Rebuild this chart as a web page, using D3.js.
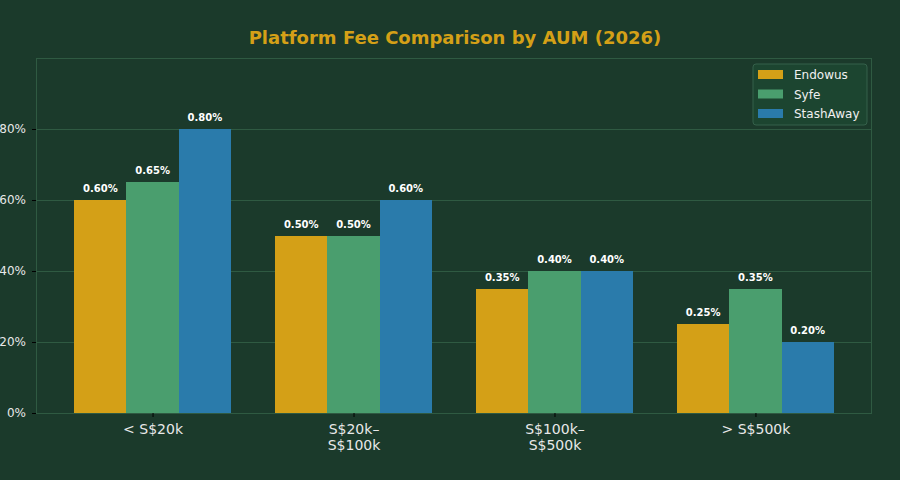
<!DOCTYPE html>
<html>
<head>
<meta charset="utf-8">
<script src="https://cdn.jsdelivr.net/npm/d3@7"></script>
<style>
  body { margin: 0; background: #1b3a2b; }
  svg { display: block; font-family: "DejaVu Sans", sans-serif; }
</style>
</head>
<body>
<div class="chart"></div>
<script>
const categories = ["< S$20k", "S$20k–\nS$100k", "S$100k–\nS$500k", "> S$500k"];
const platforms = ["Endowus", "Syfe", "StashAway"];
const endowus = [0.60, 0.50, 0.35, 0.25];
const syfe = [0.65, 0.50, 0.40, 0.35];
const stashAway = [0.80, 0.60, 0.40, 0.20];
const yTicks = [0, 0.2, 0.4, 0.6, 0.8];
const colors = ["#d4a017", "#4a9e6e", "#2a7bab"];

const series = [endowus, syfe, stashAway];
const width = 900, height = 480;
const margin = {top: 58, right: 28, bottom: 67, left: 36};

const svg = d3.select(".chart").append("svg")
  .attr("width", width)
  .attr("height", height);

svg.append("rect").attr("width", width).attr("height", height).attr("fill", "#1b3a2b");

const x = d3.scalePoint()
  .domain(d3.range(categories.length))
  .range([margin.left, width - margin.right])
  .padding(0.58);

const barW = x.step() * 0.26;

const y = d3.scaleLinear()
  .domain([0, 1.0])
  .range([height - margin.bottom, margin.top]);

// grid
svg.append("g")
  .selectAll("line")
  .data(yTicks.slice(1))
  .enter().append("line")
  .attr("x1", margin.left).attr("x2", width - margin.right)
  .attr("y1", d => Math.round(y(d)) + 0.5).attr("y2", d => Math.round(y(d)) + 0.5)
  .attr("stroke", "#2f5a42").attr("stroke-width", 1);

// bars
series.forEach((vals, si) => {
  const g = svg.append("g");
  g.selectAll("rect")
    .data(vals)
    .enter().append("rect")
    .attr("x", (d, i) => x(i) + (si - 1.5) * barW)
    .attr("y", d => y(d))
    .attr("width", barW + 0.5)
    .attr("height", d => y(0) - y(d))
    .attr("fill", colors[si])
    .attr("shape-rendering", "crispEdges");

  g.selectAll("text")
    .data(vals)
    .enter().append("text")
    .attr("x", (d, i) => x(i) + (si - 1) * barW)
    .attr("y", d => y(d) - 8)
    .attr("text-anchor", "middle")
    .attr("fill", "#ffffff")
    .style("font-size", "10px")
    .style("font-weight", "bold")
    .text(d => d.toFixed(2) + "%");
});

// frame
svg.append("rect")
  .attr("x", margin.left + 0.5).attr("y", margin.top + 0.5)
  .attr("width", width - margin.left - margin.right - 1)
  .attr("height", height - margin.top - margin.bottom)
  .attr("fill", "none")
  .attr("stroke", "#2f5a42");

// y axis
const yAxis = svg.append("g")
  .attr("transform", `translate(${margin.left},0)`)
  .call(d3.axisLeft(y).tickValues(yTicks).tickFormat(d3.format(".0%")).tickSize(4).tickPadding(6));
yAxis.select(".domain").remove();
yAxis.selectAll("line").attr("stroke", "#000");
yAxis.selectAll("text").attr("fill", "#e8e8e8").style("font-size", "12px").style("font-family", "DejaVu Sans");

// x axis
const xAxis = svg.append("g")
  .attr("transform", `translate(0,${height - margin.bottom})`)
  .call(d3.axisBottom(x).tickSize(4).tickFormat(""));
xAxis.select(".domain").remove();
xAxis.selectAll("line").attr("stroke", "#000");
xAxis.selectAll(".tick").append("text")
  .attr("fill", "#e8e8e8")
  .attr("text-anchor", "middle")
  .style("font-size", "14px")
  .style("font-family", "DejaVu Sans")
  .selectAll("tspan")
  .data(d => categories[d].split("\n"))
  .enter().append("tspan")
  .attr("x", 0)
  .attr("y", (d, i) => 21 + i * 16)
  .text(d => d);

// title
svg.append("text")
  .attr("x", width / 2 + 5)
  .attr("y", 44)
  .attr("text-anchor", "middle")
  .attr("fill", "#d4a017")
  .style("font-size", "18px")
  .style("font-weight", "bold")
  .text("Platform Fee Comparison by AUM (2026)");

// legend
const lg = svg.append("g").attr("transform", "translate(753,64)");
lg.append("rect")
  .attr("width", 114).attr("height", 61).attr("rx", 3)
  .attr("fill", "#1c4530").attr("stroke", "#35604a");
platforms.forEach((p, i) => {
  lg.append("rect")
    .attr("x", 5).attr("y", 6 + i * 19.5)
    .attr("width", 25).attr("height", 9)
    .attr("fill", colors[i]);
  lg.append("text")
    .attr("x", 41).attr("y", 15 + i * 19.5)
    .attr("fill", "#f0f0f0")
    .style("font-size", "12px")
    .text(p);
});
</script>
</body>
</html>
